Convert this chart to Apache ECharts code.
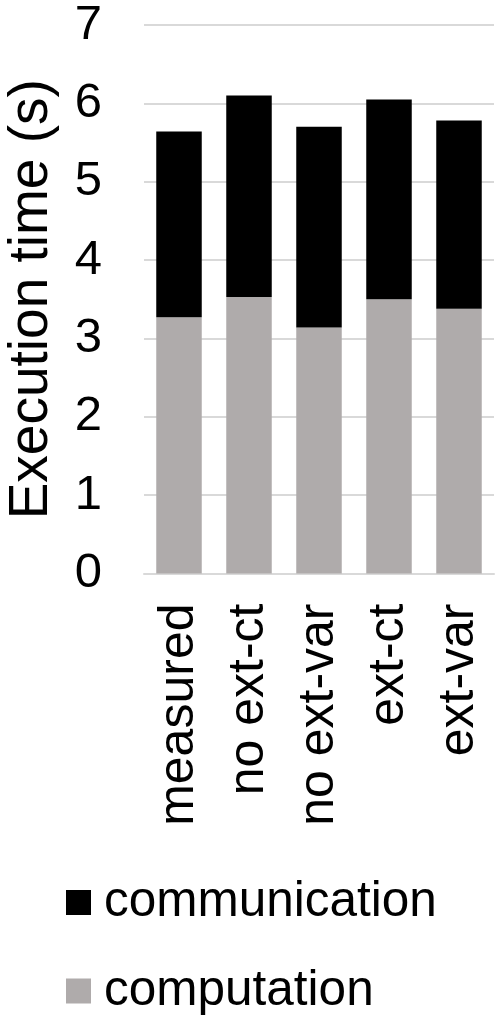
<!DOCTYPE html>
<html>
<head>
<meta charset="utf-8">
<script src="https://cdn.jsdelivr.net/npm/echarts@6/dist/echarts.min.js"></script>
<style>
html,body{margin:0;padding:0;background:#fff;}
#c{width:498px;height:1019px;}
</style>
</head>
<body>
<div id="c"></div>
<script>
const categories = ['measured', 'no ext-ct', 'no ext-var', 'ext-ct', 'ext-var'];
const computation = [3.27, 3.53, 3.14, 3.50, 3.38];
const communication = [2.37, 2.57, 2.56, 2.55, 2.40];
const yTicks = [0, 1, 2, 3, 4, 5, 6, 7];

const font = '"Liberation Sans", Arial, sans-serif';
const chart = echarts.init(document.getElementById('c'), null, {renderer: 'canvas'});
chart.setOption({
  animation: false,
  backgroundColor: '#fff',
  grid: {left: 144, right: 4, top: 25, bottom: 445.5, containLabel: false, outerBoundsMode: 'none'},
  legend: {
    orient: 'vertical',
    left: 66,
    top: 877.5,
    padding: 0,
    data: ['communication', 'computation'],
    icon: 'rect',
    itemWidth: 25,
    itemHeight: 25,
    itemGap: 38.5,
    textStyle: {fontFamily: font, fontSize: 49.5, color: '#000', lineHeight: 48, padding: [0, 0, 0, 8]}
  },
  xAxis: {
    type: 'category',
    data: categories,
    axisLine: {show: true, lineStyle: {color: '#d9d9d9', width: 2}},
    axisTick: {show: false},
    axisLabel: {rotate: 90, margin: 30, fontFamily: font, fontSize: 50, color: '#000', interval: 0}
  },
  yAxis: {
    type: 'value',
    min: yTicks[0],
    max: yTicks[yTicks.length - 1],
    interval: 1,
    name: 'Execution time (s)',
    nameLocation: 'middle',
    nameGap: 85,
    nameRotate: 90,
    nameTextStyle: {fontFamily: font, fontSize: 55, color: '#000'},
    axisLine: {show: false},
    axisTick: {show: false},
    splitLine: {lineStyle: {color: '#d9d9d9', width: 2}},
    axisLabel: {margin: 42, fontFamily: font, fontSize: 49, color: '#000'}
  },
  series: [
    {name: 'computation', type: 'bar', stack: 't', data: computation, barCategoryGap: '35%',
      itemStyle: {color: '#afabab'}},
    {name: 'communication', type: 'bar', stack: 't', data: communication, barCategoryGap: '35%',
      itemStyle: {color: '#000000'}}
  ]
});
</script>
</body>
</html>
